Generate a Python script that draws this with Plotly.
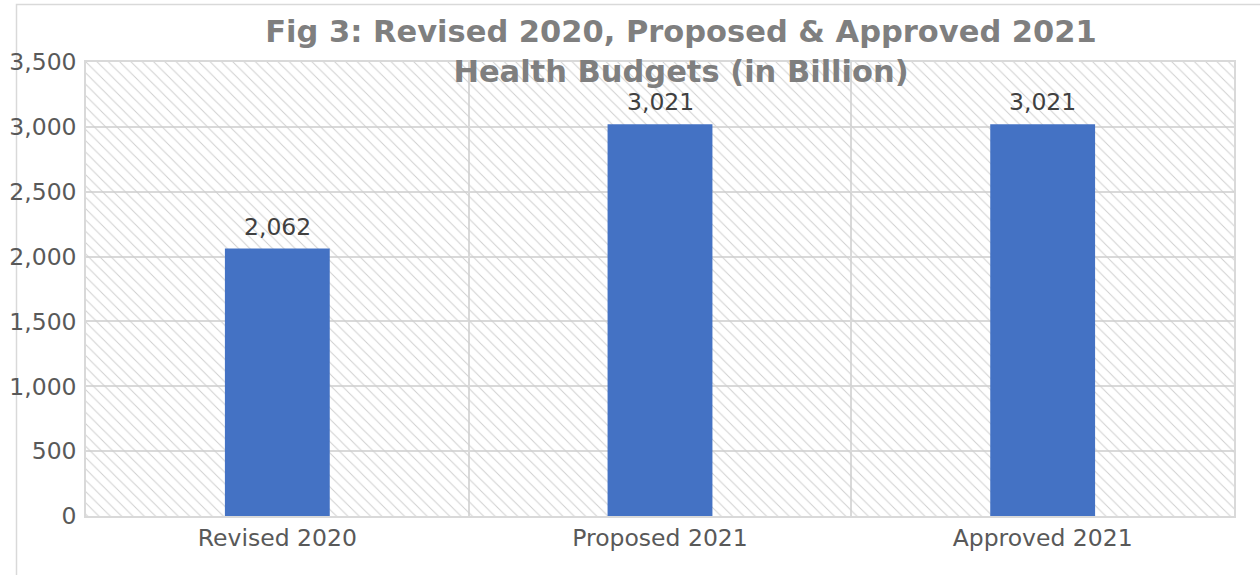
import plotly.graph_objects as go

# Health budget figures (in billion)
categories = ["Revised 2020", "Proposed 2021", "Approved 2021"]
budgets = [2062, 3021, 3021]
y_max = 3500
y_ticks = [0, 500, 1000, 1500, 2000, 2500, 3000, 3500]

FONT = "DejaVu Sans"
GRID = "#d9d9d9"
TEXT = "#595959"

fig = go.Figure()

# Hatched plot background: one full-width, full-height bar per category
fig.add_trace(go.Bar(
    x=categories,
    y=[y_max] * len(categories),
    width=1,
    marker=dict(
        color="rgba(0,0,0,0)",
        line=dict(width=0),
        pattern=dict(shape="\\", fillmode="replace", fgcolor="#cfcfcf",
                     bgcolor="rgba(0,0,0,0)", size=8, solidity=0.12),
    ),
    hoverinfo="skip",
    showlegend=False,
))

# Budget bars
fig.add_trace(go.Bar(
    x=categories,
    y=budgets,
    width=0.274,
    marker=dict(color="#4472C4", line=dict(width=0)),
    showlegend=False,
))

# Value labels above each bar
for cat, val in zip(categories, budgets):
    fig.add_annotation(
        x=cat, y=val, text=f"{val:,}", showarrow=False,
        yanchor="bottom", yshift=6,
        font=dict(family=FONT, size=23.5, color="#404040"),
    )

# Outer chart frame
fig.add_shape(
    type="rect", xref="paper", yref="paper",
    x0=(16.5 - 86) / 1148, x1=1.3, y0=-0.5, y1=1 + (62 - 4.5) / 454,
    line=dict(color=GRID, width=1.5), fillcolor="rgba(0,0,0,0)", layer="below",
)

fig.update_layout(
    width=1260, height=575,
    margin=dict(l=86, r=26, t=62, b=59),
    barmode="overlay",
    paper_bgcolor="white",
    plot_bgcolor="white",
    title=dict(
        text="Fig 3: Revised 2020, Proposed & Approved 2021<br>Health Budgets (in Billion)",
        x=681 / 1260, xanchor="center",
        y=1 - 42 / 575, yanchor="top", yref="container",
        font=dict(family=FONT, size=30.5, color="#7f7f7f", weight="bold"),
    ),
    font=dict(family=FONT, color=TEXT),
)

fig.update_xaxes(
    type="category",
    tickson="boundaries",
    automargin=False,
    showgrid=True, gridcolor=GRID, gridwidth=1.5,
    showline=True, linecolor=GRID, linewidth=1.5, mirror=True,
    ticks="", ticklabelstandoff=0,
    tickfont=dict(family=FONT, size=23.5, color=TEXT),
)

fig.update_yaxes(
    range=[0, y_max],
    tickvals=y_ticks,
    tickformat=",",
    automargin=False,
    showgrid=True, gridcolor=GRID, gridwidth=1.5,
    zeroline=False,
    showline=True, linecolor=GRID, linewidth=1.5, mirror=True,
    ticks="", ticklabelstandoff=3,
    tickfont=dict(family=FONT, size=23.5, color=TEXT),
)

fig.write_html("out.html")
